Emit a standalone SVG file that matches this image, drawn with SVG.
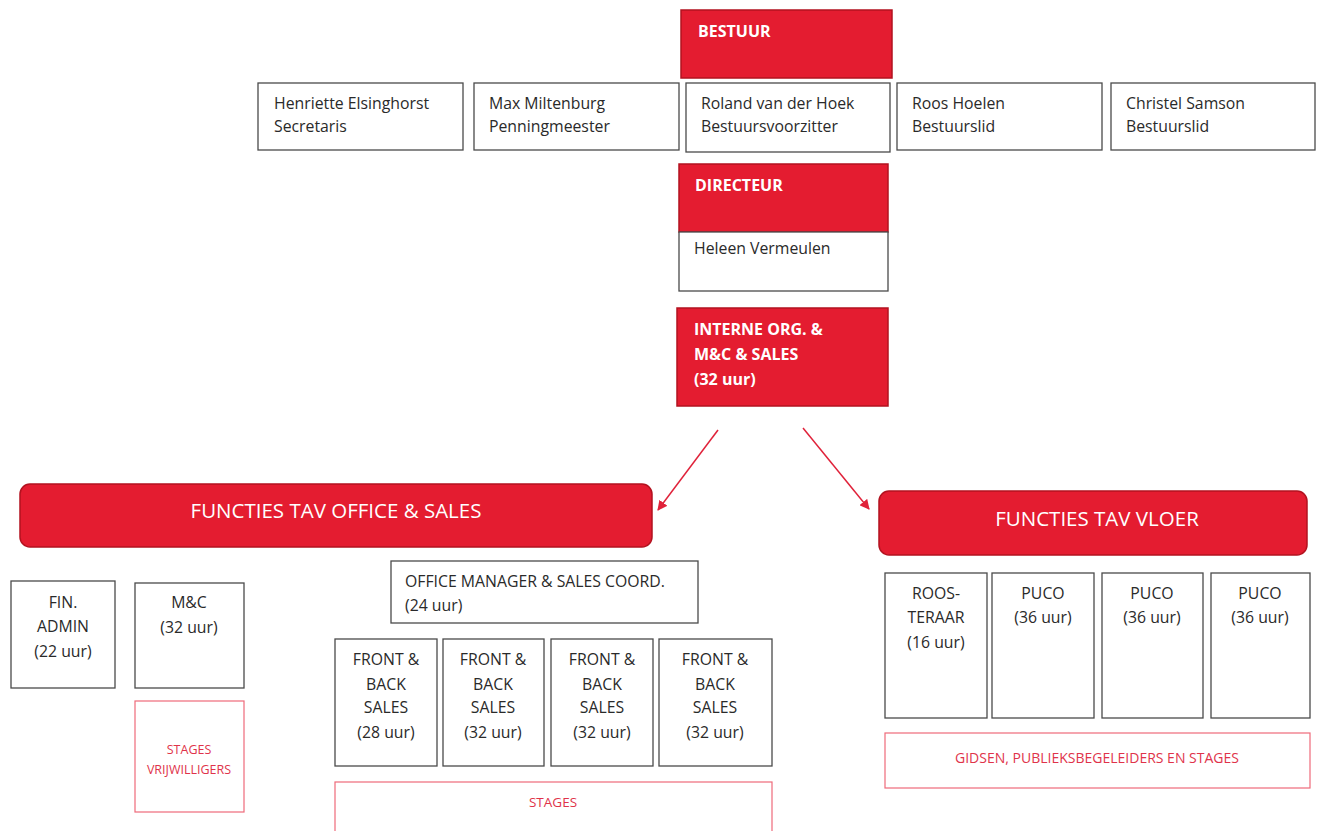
<svg xmlns="http://www.w3.org/2000/svg" width="1317" height="831" viewBox="0 0 1317 831">
<defs>
<style>
.red{fill:#e41c30;stroke:#b3121f;stroke-width:1.5}
.box{fill:#fff;stroke:#4a4a4a;stroke-width:1.3}
.pink{fill:#fff;stroke:#ee6a7a;stroke-width:1.2}
.t{font-family:"Open Sans","Noto Sans",sans-serif;font-size:15.8px;fill:#2a2a2a}
.c{text-anchor:middle}
.wb{font-family:"Open Sans","Noto Sans",sans-serif;font-size:16px;font-weight:bold;fill:#fff}
.hd{font-family:"Open Sans","Noto Sans",sans-serif;font-size:20.5px;fill:#fff;text-anchor:middle}
.rt{font-family:"Open Sans","Noto Sans",sans-serif;font-size:13.5px;fill:#e0334a;text-anchor:middle}
</style>
<marker id="ah" viewBox="0 0 10 10" refX="9" refY="5" markerWidth="10" markerHeight="10" markerUnits="userSpaceOnUse" orient="auto">
<path d="M0,0 L10,5 L0,10 z" fill="#e0223a"/>
</marker>
</defs>
<rect width="1317" height="831" fill="#fff"/>

<g id="connectors" stroke="#e0223a" stroke-width="1.5" fill="none">
<line x1="718" y1="430" x2="658" y2="510" marker-end="url(#ah)"/>
<line x1="803" y1="428" x2="869" y2="509" marker-end="url(#ah)"/>
</g>

<g id="bestuur"><rect class="red" x="681" y="10" width="211" height="68"/><text class="wb" x="698" y="37">BESTUUR</text></g>

<g id="henriette"><rect class="box" x="258" y="83" width="205" height="67"/><text class="t" x="274" y="109">Henriette Elsinghorst</text><text class="t" x="274" y="132">Secretaris</text></g>
<g id="max"><rect class="box" x="474" y="83" width="205" height="67"/><text class="t" x="489" y="109">Max Miltenburg</text><text class="t" x="489" y="132">Penningmeester</text></g>
<g id="roland"><rect class="box" x="686" y="83" width="204" height="69"/><text class="t" x="701" y="109">Roland van der Hoek</text><text class="t" x="701" y="132">Bestuursvoorzitter</text></g>
<g id="roos"><rect class="box" x="897" y="83" width="205" height="67"/><text class="t" x="912" y="109">Roos Hoelen</text><text class="t" x="912" y="132">Bestuurslid</text></g>
<g id="christel"><rect class="box" x="1111" y="83" width="204" height="67"/><text class="t" x="1126" y="109">Christel Samson</text><text class="t" x="1126" y="132">Bestuurslid</text></g>

<g id="directeur"><rect class="red" x="679" y="164" width="209" height="68"/><text class="wb" x="695" y="191">DIRECTEUR</text><rect class="box" x="679" y="232" width="209" height="59"/><text class="t" x="694" y="254">Heleen Vermeulen</text></g>

<g id="interne"><rect class="red" x="677" y="308" width="211" height="98"/><text class="wb" x="694" y="335">INTERNE ORG. &amp;</text><text class="wb" x="694" y="360">M&amp;C &amp; SALES</text><text class="wb" x="694" y="385">(32 uur)</text></g>

<g id="office-sales"><rect class="red" x="20" y="484" width="632" height="63" rx="10"/><text class="hd" x="336" y="518">FUNCTIES TAV OFFICE &amp; SALES</text></g>
<g id="vloer"><rect class="red" x="879" y="491" width="428" height="64" rx="10"/><text class="hd" x="1097" y="526">FUNCTIES TAV VLOER</text></g>

<g id="fin-admin"><rect class="box" x="11" y="581" width="104" height="107"/><text class="t c" x="63" y="608">FIN.</text><text class="t c" x="63" y="632">ADMIN</text><text class="t c" x="63" y="657">(22 uur)</text></g>
<g id="mc"><rect class="box" x="135" y="583" width="109" height="105"/><text class="t c" x="189" y="608">M&amp;C</text><text class="t c" x="189" y="633">(32 uur)</text></g>
<g id="stages-vrijwilligers"><rect class="pink" x="135" y="701" width="109" height="111"/><text class="rt" x="189" y="754" style="font-size:12.5px">STAGES</text><text class="rt" x="189" y="774" style="font-size:12.5px">VRIJWILLIGERS</text></g>

<g id="office-manager"><rect class="box" x="391" y="561" width="307" height="62"/><text class="t" x="405" y="587">OFFICE MANAGER &amp; SALES COORD.</text><text class="t" x="405" y="611">(24 uur)</text></g>

<g id="fbs1"><rect class="box" x="335" y="639" width="102" height="127"/><text class="t c" x="386" y="665">FRONT &amp;</text><text class="t c" x="386" y="690">BACK</text><text class="t c" x="386" y="713">SALES</text><text class="t c" x="386" y="738">(28 uur)</text></g>
<g id="fbs2"><rect class="box" x="443" y="639" width="101" height="127"/><text class="t c" x="493" y="665">FRONT &amp;</text><text class="t c" x="493" y="690">BACK</text><text class="t c" x="493" y="713">SALES</text><text class="t c" x="493" y="738">(32 uur)</text></g>
<g id="fbs3"><rect class="box" x="551" y="639" width="102" height="127"/><text class="t c" x="602" y="665">FRONT &amp;</text><text class="t c" x="602" y="690">BACK</text><text class="t c" x="602" y="713">SALES</text><text class="t c" x="602" y="738">(32 uur)</text></g>
<g id="fbs4"><rect class="box" x="659" y="639" width="113" height="127"/><text class="t c" x="715" y="665">FRONT &amp;</text><text class="t c" x="715" y="690">BACK</text><text class="t c" x="715" y="713">SALES</text><text class="t c" x="715" y="738">(32 uur)</text></g>

<g id="stages"><rect class="pink" x="335" y="782" width="437" height="60"/><text class="rt" x="553" y="807">STAGES</text></g>

<g id="roosteraar"><rect class="box" x="885" y="573" width="102" height="145"/><text class="t c" x="936" y="599">ROOS-</text><text class="t c" x="936" y="623">TERAAR</text><text class="t c" x="936" y="648">(16 uur)</text></g>
<g id="puco1"><rect class="box" x="992" y="573" width="102" height="145"/><text class="t c" x="1043" y="599">PUCO</text><text class="t c" x="1043" y="623">(36 uur)</text></g>
<g id="puco2"><rect class="box" x="1102" y="573" width="101" height="145"/><text class="t c" x="1152" y="599">PUCO</text><text class="t c" x="1152" y="623">(36 uur)</text></g>
<g id="puco3"><rect class="box" x="1211" y="573" width="99" height="145"/><text class="t c" x="1260" y="599">PUCO</text><text class="t c" x="1260" y="623">(36 uur)</text></g>

<g id="gidsen"><rect class="pink" x="885" y="733" width="425" height="55"/><text class="rt" x="1097" y="763" style="font-size:14px">GIDSEN, PUBLIEKSBEGELEIDERS EN STAGES</text></g>
</svg>
